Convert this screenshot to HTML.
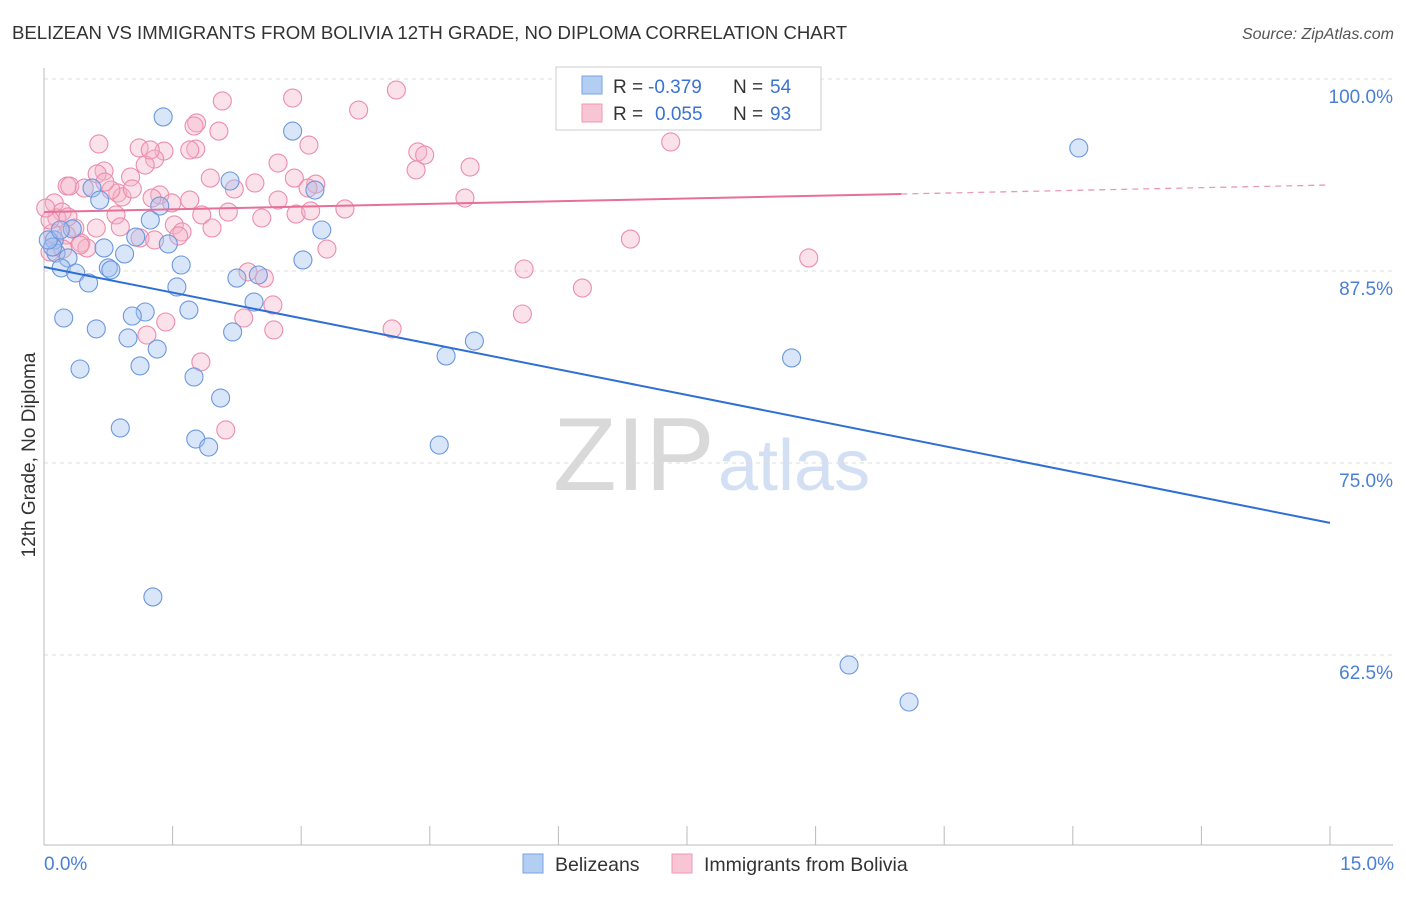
<!DOCTYPE html>
<html><head><meta charset="utf-8"><style>
body{margin:0;background:#fff;font-family:"Liberation Sans",sans-serif;}
svg text{font-family:"Liberation Sans",sans-serif;}
</style></head><body>
<svg id="chart" width="1406" height="892" viewBox="0 0 1406 892" xmlns="http://www.w3.org/2000/svg">
<text x="12" y="39" font-size="18.6" fill="#333">BELIZEAN VS IMMIGRANTS FROM BOLIVIA 12TH GRADE, NO DIPLOMA CORRELATION CHART</text>
<text x="1394" y="39" font-size="16" fill="#555" text-anchor="end" font-style="italic">Source: ZipAtlas.com</text>
<g>
<text x="553" y="490" font-size="104" fill="#d9d9d9" font-family="Liberation Serif">ZIP</text>
<text x="718" y="490" font-size="72" fill="#d3e0f3">atlas</text>
</g>
<g id="grid"></g>
<g id="axes"></g>
<g id="pts"></g>
<g id="lines"></g>
<g>
<rect x="556" y="67" width="265" height="63" fill="#fff" stroke="#ccc"/>
<rect x="582" y="76" width="20" height="18" fill="#b4cdf3" stroke="#7aa3e0"/>
<rect x="582" y="104" width="20" height="18" fill="#f8c5d5" stroke="#ee9ab5"/>
<text x="613" y="93" font-size="19" fill="#333">R =</text>
<text x="648" y="93" font-size="19" fill="#3a73d0">-0.379</text>
<text x="733" y="93" font-size="19" fill="#333">N =</text>
<text x="770" y="93" font-size="19" fill="#3a73d0">54</text>
<text x="613" y="120" font-size="19" fill="#333">R =</text>
<text x="655" y="120" font-size="19" fill="#3a73d0">0.055</text>
<text x="733" y="120" font-size="19" fill="#333">N =</text>
<text x="770" y="120" font-size="19" fill="#3a73d0">93</text>
</g>
<text transform="translate(35,455) rotate(-90)" font-size="19" fill="#333" text-anchor="middle">12th Grade, No Diploma</text>
<text x="44" y="870" font-size="19" fill="#4a7fd6">0.0%</text>
<text x="1394" y="870" font-size="19" fill="#4a7fd6" text-anchor="end">15.0%</text>
<g>
<rect x="523" y="854" width="20" height="19" fill="#b4cdf3" stroke="#7aa3e0"/>
<text x="555" y="871" font-size="19.5" fill="#333">Belizeans</text>
</g>
<g>
<rect x="672" y="854" width="20" height="19" fill="#f8c5d5" stroke="#ee9ab5"/>
<text x="704" y="871" font-size="19.5" fill="#333">Immigrants from Bolivia</text>
</g>
</svg>
<script>
const yTicks=[100,87.5,75,62.5];
const yTickLabels=["100.0%","87.5%","75.0%","62.5%"];
const xTicks=[0,1.5,3,4.5,6,7.5,9,10.5,12,13.5,15];
const blueX=[1.39,2.90,12.07,.56,2.17,3.16,.65,1.35,1.24,3.24,.33,.12,1.07,1.45,.70,.14,.94,.28,1.60,3.02,.20,.75,.78,.37,.52,2.25,2.50,1.55,2.45,1.69,1.18,1.03,.23,.61,2.20,.98,1.32,5.02,4.69,8.72,1.12,.42,1.75,2.06,.89,1.77,1.92,4.61,1.27,9.39,10.09,.10,.05,.19];
const blueY=[97.53,96.61,95.51,92.90,93.36,92.77,92.12,91.73,90.82,90.17,90.24,89.52,89.71,89.26,89.00,88.67,88.61,88.35,87.89,88.22,87.70,87.70,87.57,87.37,86.72,87.04,87.24,86.46,85.48,84.96,84.83,84.57,84.44,83.73,83.53,83.14,82.42,82.94,81.97,81.84,81.32,81.12,80.60,79.23,77.28,76.56,76.04,76.17,66.28,61.85,59.44,89.06,89.52,90.17];
const pinkX=[6.47,4.11,2.90,2.08,3.67,1.78,1.75,2.04,3.09,.64,1.11,1.40,1.77,7.31,4.36,4.97,2.73,1.29,1.18,.70,.62,1.01,1.94,2.46,2.92,3.17,.27,.30,.47,.86,.91,.78,1.35,1.26,1.70,2.22,3.08,4.91,.12,.21,.15,.84,1.49,1.84,2.15,2.54,2.94,3.11,3.51,4.34,.36,.26,.61,.89,1.12,1.52,1.61,1.96,1.29,1.57,.43,.50,.07,.10,3.30,6.84,5.60,8.92,2.38,2.57,6.28,2.67,2.33,2.68,5.58,4.06,1.42,1.20,1.83,2.12,.42,.22,1.03,.71,.07,1.70,2.73,4.44,.28,.02,1.24];
const pinkY=[98.89,99.28,98.76,98.57,97.98,97.14,96.94,96.61,95.70,95.77,95.51,95.31,95.44,95.90,95.25,94.27,94.53,94.79,94.40,94.01,93.82,93.62,93.55,93.23,93.55,93.16,93.03,93.03,92.90,92.58,92.32,92.77,92.45,92.25,92.12,92.84,92.90,92.25,91.93,91.34,90.95,91.15,91.93,91.15,91.34,90.95,91.21,91.41,91.54,94.08,90.30,89.84,90.30,90.37,89.65,90.50,90.04,90.30,89.52,89.78,89.32,89.00,88.74,89.97,88.93,89.58,87.63,88.35,87.44,87.04,86.39,85.29,84.44,83.66,84.70,83.73,84.18,83.33,81.58,77.15,89.19,88.93,92.84,93.29,90.82,95.38,92.12,95.05,91.02,91.60,95.38];
const blueTrend=[87.76,71.1];
const pinkTrend=[91.34,93.1];
const pinkSolidEnd=10.0;
const NS="http://www.w3.org/2000/svg";
const X=v=>44+v/15*1286, Y=v=>79+(100-v)*15.36;
function mk(tag,attrs,parent){const e=document.createElementNS(NS,tag);for(const k in attrs)e.setAttribute(k,attrs[k]);parent.appendChild(e);return e;}
const grid=document.getElementById('grid'),axes=document.getElementById('axes'),pts=document.getElementById('pts'),lines=document.getElementById('lines');
yTicks.forEach((t,i)=>{
 const l=mk('line',{x1:44,x2:1393,y1:Y(t),y2:Y(t),stroke:'#ddd','stroke-dasharray':'4,4'},grid);
 
 
 const tx=mk('text',{x:1393,y:Y(t)+24,'font-size':19,fill:'#4a7fd6','text-anchor':'end'},axes);
 tx.textContent=yTickLabels[i];
 
 
});
mk('line',{x1:44,x2:44,y1:68,y2:845,stroke:'#bbb'},axes);
mk('line',{x1:44,x2:1393,y1:845,y2:845,stroke:'#bbb'},axes);
xTicks.forEach(t=>{
 const l=mk('line',{x1:X(t),x2:X(t),y1:826,y2:845,stroke:'#bbb'},axes);
 
 
});
function drawPts(xs,ys,fill,stroke,name){
 xs.forEach((x,i)=>{
  const c=mk('circle',{cx:X(x),cy:Y(ys[i]),r:9,fill:fill,'fill-opacity':0.4,stroke:stroke,'stroke-width':1.1},pts);
  
  
 });
}
drawPts(pinkX,pinkY,'#f5b3c8','#ec8dac','bolivia-point');
drawPts(blueX,blueY,'#9fc0f0','#6b98de','belizean-point');
const bl=mk('line',{x1:X(0),y1:Y(blueTrend[0]),x2:X(15),y2:Y(blueTrend[1]),stroke:'#2f6fd3','stroke-width':2},lines);


const pAt=x=>pinkTrend[0]+(pinkTrend[1]-pinkTrend[0])*x/15;
const pl=mk('line',{x1:X(0),y1:Y(pAt(0)),x2:X(pinkSolidEnd),y2:Y(pAt(pinkSolidEnd)),stroke:'#e86f97','stroke-width':2},lines);


const pd=mk('line',{x1:X(pinkSolidEnd),y1:Y(pAt(pinkSolidEnd)),x2:X(15),y2:Y(pAt(15)),stroke:'#e99ab4','stroke-width':1.3,'stroke-dasharray':'6,5'},lines);


</script>
</body></html>
